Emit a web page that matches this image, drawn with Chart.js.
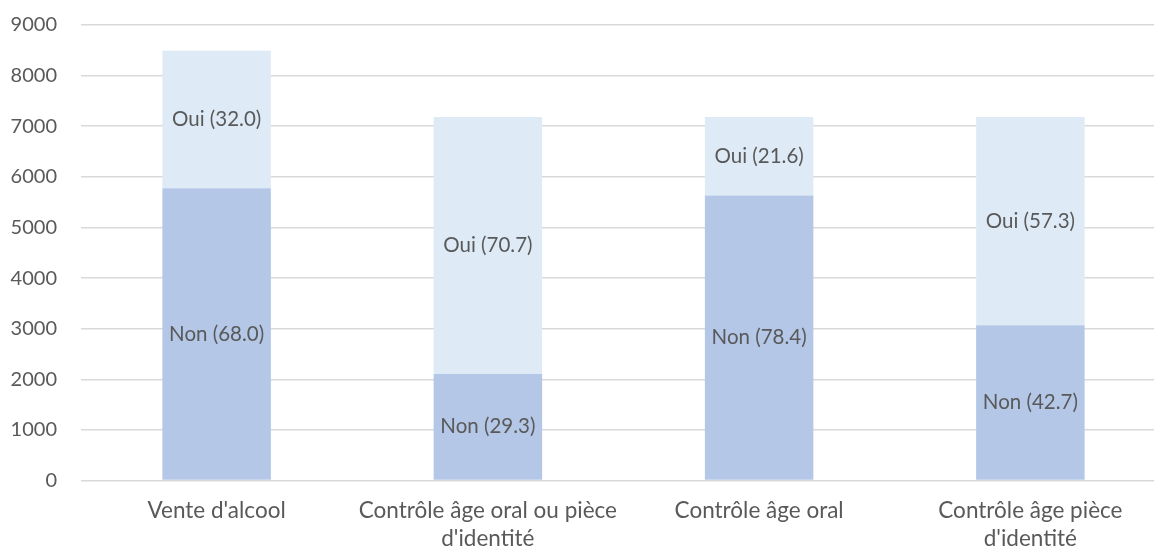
<!DOCTYPE html>
<html lang="fr">
<head>
<meta charset="utf-8">
<script src="https://cdn.jsdelivr.net/npm/chart.js@4/dist/chart.umd.min.js"></script>
<style>
  html, body { margin: 0; padding: 0; background: #ffffff; overflow: hidden; }
  #wrap { position: absolute; left: 0; top: 0; width: 1170px; height: 548px; }
</style>
</head>
<body>
<div id="wrap"><canvas id="chart" width="1170" height="548"></canvas></div>
<script>
// Categories (multi-line labels)
const categories = [
  "Vente d'alcool",
  ["Contrôle âge oral ou pièce", "d'identité"],
  "Contrôle âge oral",
  ["Contrôle âge pièce", "d'identité"]
];
// Total respondents per bar
const totals = [8490, 7180, 7180, 7180];
// Shares (%) shown in the labels
const nonPct = [68.0, 29.3, 78.4, 42.7];
const ouiPct = [32.0, 70.7, 21.6, 57.3];
// Y axis ticks
const yTicks = [0, 1000, 2000, 3000, 4000, 5000, 6000, 7000, 8000, 9000];

// Counts per segment, from the total and its share
const nonCounts = totals.map((t, i) => t * nonPct[i] / 100);
const ouiCounts = totals.map((t, i) => t * ouiPct[i] / 100);

const FONT = "Lato, 'Open Sans', sans-serif";
const TEXT = "#595959";

// Draws "Non (xx.x)" / "Oui (xx.x)" centred in each stacked segment
const segmentLabels = {
  id: 'segmentLabels',
  afterDatasetsDraw(chart) {
    const ctx = chart.ctx;
    ctx.save();
    ctx.font = "20.5px " + FONT;
    ctx.fillStyle = TEXT;
    ctx.textAlign = 'center';
    ctx.textBaseline = 'middle';
    chart.data.datasets.forEach((ds, di) => {
      const meta = chart.getDatasetMeta(di);
      meta.data.forEach((bar, i) => {
        const p = bar.getProps(['x', 'y', 'base'], true);
        const cy = (p.y + p.base) / 2;
        ctx.fillText(ds.label + ' (' + ds.pct[i].toFixed(1) + ')', p.x, cy);
      });
    });
    ctx.restore();
  }
};

new Chart(document.getElementById('chart'), {
  type: 'bar',
  data: {
    labels: categories,
    datasets: [
      { label: 'Non', pct: nonPct, data: nonCounts, backgroundColor: '#B4C7E7' },
      { label: 'Oui', pct: ouiPct, data: ouiCounts, backgroundColor: '#DEEBF7' }
    ]
  },
  options: {
    responsive: false,
    animation: false,
    events: [],
    layout: { padding: { top: 25, right: 4, left: 0, bottom: 0 } },
    datasets: { bar: { categoryPercentage: 1.0, barPercentage: 0.4, borderWidth: 0 } },
    plugins: { legend: { display: false }, tooltip: { enabled: false } },
    scales: {
      x: {
        stacked: true,
        grid: { display: false, drawTicks: false },
        border: { display: false },
        ticks: {
          color: TEXT,
          font: { family: FONT, size: 22.5, lineHeight: 1.25 },
          padding: 16,
          maxRotation: 0,
          autoSkip: false
        },
        afterFit(scale) { scale.height = 67.5; }
      },
      y: {
        stacked: true,
        min: 0,
        max: 9000,
        afterBuildTicks(scale) { scale.ticks = yTicks.map(v => ({ value: v })); },
        grid: { color: '#D9D9D9', lineWidth: 1.5, drawTicks: false },
        border: { display: false },
        ticks: {
          color: TEXT,
          font: { family: FONT, size: 20 },
          padding: 24,
          callback: (v) => String(v)
        },
        afterFit(scale) {
          scale.width = 81;
          scale.paddingTop = 0;
          scale.paddingBottom = 0;
        }
      }
    }
  },
  plugins: [segmentLabels]
});
</script>
</body>
</html>
